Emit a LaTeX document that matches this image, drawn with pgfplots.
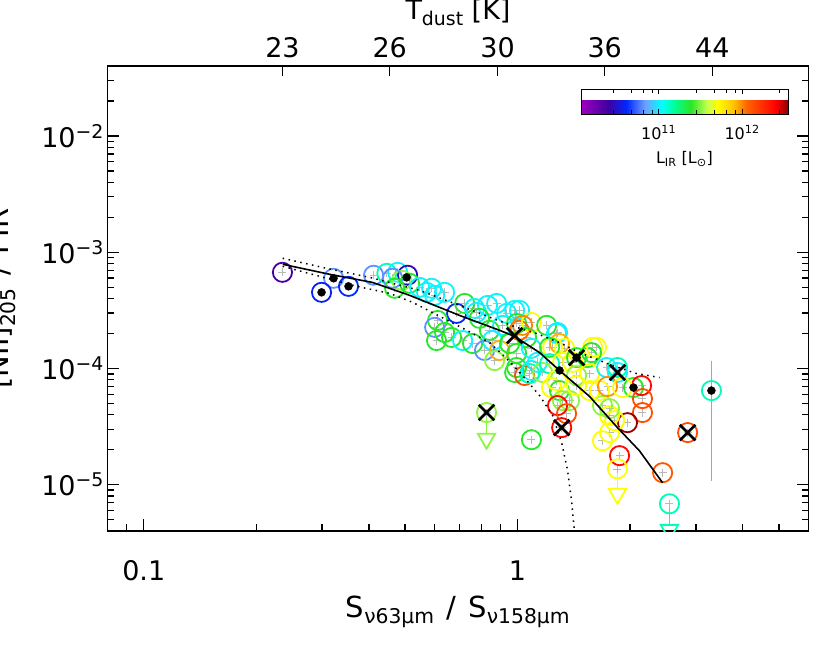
\documentclass[border=0pt]{standalone}
\usepackage{fontspec}
\setmainfont{DejaVu Sans}
\usepackage{pgfplots}
\usepackage{pgfplotstable}
\pgfplotsset{compat=1.18}
\definecolor{cYG}{RGB}{140,246,65}
\definecolor{cY}{RGB}{255,255,0}
\definecolor{cAQ}{RGB}{0,255,185}

\pgfplotstableread{
x y c
0.235 6.72e-4 10.37
0.322 5.97e-4 10.81
0.299 4.52e-4 10.59
0.353 5.09e-4 10.62
0.412 6.34e-4 10.81
0.447 6.59e-4 11.14
0.478 6.72e-4 11.01
0.508 6.34e-4 10.45
0.490 5.74e-4 11.51
0.463 5.97e-4 10.81
0.469 4.90e-4 11.38
0.514 5.41e-4 11.38
0.571 4.52e-4 11.01
0.600 4.26e-4 11.01
0.638 4.52e-4 11.01
0.589 4.90e-4 11.01
0.547 4.99e-4 11.01
0.687 2.98e-4 10.62
0.722 3.63e-4 11.38
0.611 2.59e-4 11.38
0.600 2.26e-4 10.81
0.607 1.74e-4 11.38
0.638 2.04e-4 11.38
0.666 1.85e-4 11.38
0.713 1.74e-4 11.01
0.767 3.29e-4 11.01
0.777 3.04e-4 11.01
0.831 3.49e-4 11.01
0.879 3.63e-4 11.01
0.791 2.70e-4 11.38
0.841 2.13e-4 11.38
0.758 1.64e-4 11.38
0.857 1.74e-4 11.01
0.816 1.43e-4 10.81
0.895 1.43e-4 11.93
0.868 1.17e-4 11.51
0.935 2.98e-4 11.01
0.982 3.16e-4 11.01
1.012 3.16e-4 11.01
0.912 2.35e-4 11.01
0.952 1.64e-4 11.38
0.994 2.44e-4 11.38
1.010 2.13e-4 12.05
1.089 2.49e-4 11.71
1.057 1.85e-4 11.38
0.994 1.35e-4 11.38
1.089 1.49e-4 11.01
0.994 1.02e-4 11.38
0.982 9.24e-5 11.38
1.044 8.71e-5 12.13
1.089 9.62e-5 11.01
1.077 9.05e-5 11.14
1.031 2.35e-4 12.00
1.196 2.35e-4 11.38
1.279 2.04e-4 11.01
1.271 2.00e-4 11.01
1.294 1.64e-4 11.93
1.336 1.49e-4 11.71
1.241 1.52e-4 11.71
1.218 1.52e-4 11.38
1.130 1.13e-4 11.01
1.167 9.24e-5 11.51
1.218 1.10e-4 11.14
1.319 1.13e-4 11.71
1.404 1.13e-4 11.71
1.438 1.24e-4 11.38
1.538 1.24e-4 11.38
1.626 1.52e-4 11.71
1.588 1.52e-4 11.71
1.577 1.37e-4 11.38
1.438 8.71e-5 11.51
1.559 9.05e-5 11.71
1.730 1.02e-4 11.01
1.850 1.02e-4 11.14
1.850 9.24e-5 11.01
2.042 6.86e-5 11.38
2.146 7.13e-5 12.38
2.158 5.51e-5 12.13
2.158 4.18e-5 12.13
1.968 3.42e-5 12.53
1.762 3.94e-5 11.71
1.687 4.80e-5 11.51
1.559 6.46e-5 11.71
1.656 6.46e-5 11.71
1.740 7.00e-5 11.98
1.909 6.86e-5 11.71
1.233 6.86e-5 11.71
1.294 6.46e-5 11.38
1.318 5.30e-5 11.51
1.377 5.30e-5 11.51
1.438 7.13e-5 11.71
1.271 7.88e-5 11.71
1.279 4.80e-5 12.38
1.352 4.09e-5 12.13
1.312 3.10e-5 12.38
1.089 2.44e-5 11.38
0.826 4.18e-5 11.51
1.687 2.39e-5 11.71
1.762 2.81e-5 11.71
1.817 3.56e-5 11.71
1.762 4.52e-5 11.51
1.874 1.78e-5 12.38
1.850 1.37e-5 11.71
2.443 1.27e-5 12.10
2.548 6.86e-6 11.14
2.850 2.81e-5 12.13
3.300 6.46e-5 11.14
}\circletab

\pgfplotstableread{
x y
0.826 4.18e-5
0.982 1.92e-4
1.438 1.24e-4
1.850 9.24e-5
1.312 3.10e-5
2.850 2.81e-5
}\crosstab

\pgfplotstableread{
x y
0.322 5.97e-4
0.299 4.52e-4
0.353 5.09e-4
0.505 6.08e-4
1.295 9.62e-5
1.438 1.24e-4
2.042 6.86e-5
3.300 6.46e-5
}\dottab

\pgfplotstableread{
x y
0.2353 7.88e-4
0.3143 6.46e-4
0.4093 5.50e-4
0.5143 4.26e-4
0.6998 2.86e-4
0.8952 2.13e-4
0.9817 1.89e-4
1.145 1.37e-4
1.295 9.62e-5
1.559 5.74e-5
1.850 3.10e-5
2.118 1.96e-5
2.443 1.04e-5
}\fittab

\pgfplotstableread{
x y
0.2353 8.88e-4
0.3086 7.27e-4
0.4022 6.08e-4
0.5470 4.70e-4
0.6871 3.56e-4
0.8573 2.70e-4
0.9939 2.26e-4
1.124 2.00e-4
1.295 1.67e-4
1.465 1.37e-4
1.795 1.06e-4
2.080 9.05e-5
2.398 8.36e-5
}\uppertab

\pgfplotstableread{
x y
0.2353 7.57e-4
0.3715 5.09e-4
0.4546 4.43e-4
0.5240 3.71e-4
0.7311 2.13e-4
0.8414 1.67e-4
0.9345 1.22e-4
1.031 8.71e-5
1.145 5.85e-5
1.241 3.94e-5
1.312 2.30e-5
1.361 1.32e-5
1.394 7.28e-6
1.425 3.5e-6
}\lowertab

\newcommand{\bigfnt}{\fontsize{27bp}{30bp}\selectfont}
\newcommand{\labfnt}{\fontsize{29bp}{32bp}\selectfont}
\newcommand{\cbfnt}{\fontsize{16bp}{18bp}\selectfont}

\begin{document}
\begin{tikzpicture}
\begin{axis}[
  at={(0,0)}, anchor=south west,
  scale only axis, width=701bp, height=465bp,
  xmode=log, ymode=log,
  xmin=0.08, xmax=6, ymin=4e-6, ymax=0.04,
  xtick={0.1,1}, xticklabels={0.1,1},
  minor xtick={0.09,0.2,0.3,0.4,0.5,0.6,0.7,0.8,0.9,2,3,4,5},
  ytick={1e-5,1e-4,1e-3,1e-2},
  yticklabels={10\textsuperscript{−5},10\textsuperscript{−4},10\textsuperscript{−3},10\textsuperscript{−2}},
  minor ytick={5e-6,6e-6,7e-6,8e-6,9e-6,2e-5,3e-5,4e-5,5e-5,6e-5,7e-5,8e-5,9e-5,2e-4,3e-4,4e-4,5e-4,6e-4,7e-4,8e-4,9e-4,2e-3,3e-3,4e-3,5e-3,6e-3,7e-3,8e-3,9e-3,2e-2,3e-2,4e-2},
  xtick pos=left, xticklabel pos=left, ytick pos=both, yticklabel pos=left,
  tick align=inside,
  major tick length=12bp, minor tick length=7bp,
  every tick/.style={black, line width=1.4bp},
  axis line style={line width=1.6bp},
  tick label style={font=\bigfnt},
  xticklabel style={yshift=-26bp},
  xlabel={S\textsubscript{ν63μm}\hspace{12bp}/\hspace{12bp}S\textsubscript{ν158μm}},
  xlabel style={font=\labfnt, at={(axis description cs:0.5,-0.185)}, anchor=base},
  ylabel={[NII]\textsubscript{205}\hspace{12bp}/\hspace{12bp}FIR},
  ylabel style={font=\labfnt, at={(axis description cs:-0.1405,0.5)}, anchor=base},
  clip marker paths=true,
  colormap={idl}{rgb255(0cm)=(160,0,192); rgb255(13cm)=(64,0,160); rgb255(22cm)=(0,40,255); rgb255(31cm)=(110,160,255); rgb255(39cm)=(0,255,255); rgb255(45cm)=(0,255,150); rgb255(53cm)=(40,230,40); rgb255(61cm)=(200,255,80); rgb255(66cm)=(255,255,0); rgb255(74cm)=(255,190,0); rgb255(80cm)=(255,100,0); rgb255(94cm)=(255,0,0); rgb255(100cm)=(140,0,0)},
  point meta min=10.07, point meta max=12.55,
  colorbar horizontal,
  colorbar style={
    at={(parent axis.south west)}, anchor=north west,
    xshift=473.5bp, yshift=450bp,
    scale only axis, width=207bp, height=25bp,
    xtick={11,12}, xticklabels={10\textsuperscript{11},10\textsuperscript{12}},
    minor xtick={10.454,10.672,10.814,10.921,11.447,11.664,11.81,11.92,12.443},
    xtick pos=both, xticklabel pos=left,
    tick align=inside,
    major tick length=5bp, minor tick length=4bp,
    every tick/.style={black, line width=0.8bp},
    axis line style={line width=0.8bp},
    xticklabel style={font=\cbfnt, yshift=-7bp},
    xlabel={L\textsubscript{IR} [L\textsubscript{⊙}]},
    xlabel style={font=\cbfnt, at={(axis description cs:0.5,-1.96)}, anchor=base},
  },
]
% upper-limit arrows
\addplot[cYG, line width=1.8bp] coordinates {(0.826,4.18e-5) (0.826,2.75e-5)};
\addplot[cY, line width=1.8bp] coordinates {(1.850,1.37e-5) (1.850,9.25e-6)};
\addplot[cAQ, line width=1.8bp] coordinates {(2.548,6.86e-6) (2.548,4.52e-6)};
\addplot[only marks, cYG, mark=triangle, mark size=10bp, mark options={rotate=180, line width=1.8bp}] coordinates {(0.826,2.49e-5)};
\addplot[only marks, cY, mark=triangle, mark size=10bp, mark options={rotate=180, line width=1.8bp}] coordinates {(1.850,8.36e-6)};
\addplot[only marks, cAQ, mark=triangle, mark size=10bp, mark options={rotate=180, line width=1.8bp}] coordinates {(2.548,4.09e-6)};
% large error bar
\addplot[gray!70, line width=0.8bp] coordinates {(3.300,1.17e-4) (3.300,1.08e-5)};
% small error crosses
\addplot[only marks, mark=+, mark size=4bp, gray!55, mark options={line width=0.7bp}] table[x=x,y=y] {\circletab};
% coloured circles
\addplot[scatter, only marks, mark=o, mark size=9.6bp, scatter src=explicit,
  scatter/use mapped color={draw=mapped color, line width=1.8bp}] table[x=x,y=y,meta=c] {\circletab};
% fits
\addplot[black, line width=1.6bp] table[x=x,y=y] {\fittab};
\addplot[black, line width=1.5bp, dash pattern=on 1.5bp off 4.5bp] table[x=x,y=y] {\uppertab};
\addplot[black, line width=1.5bp, dash pattern=on 1.5bp off 4.5bp] table[x=x,y=y] {\lowertab};
% crosses and dots
\addplot[only marks, mark=x, mark size=11bp, black, mark options={line width=2.6bp}] table[x=x,y=y] {\crosstab};
\addplot[only marks, mark=*, mark size=4bp, black] table[x=x,y=y] {\dottab};
\end{axis}

\begin{axis}[
  at={(0,0)}, anchor=south west,
  scale only axis, width=701bp, height=465bp,
  xmode=log, ymode=log,
  xmin=0.08, xmax=6, ymin=4e-6, ymax=0.04,
  axis x line*=top, axis y line=none,
  xtick={0.235,0.455,0.884,1.71,3.32}, xticklabels={23,26,30,36,44},
  minor xtick={},
  tick align=inside,
  major tick length=10bp,
  every tick/.style={black, line width=1.4bp},
  axis line style={line width=1.6bp},
  tick label style={font=\bigfnt},
  xticklabel style={yshift=5bp},
  xlabel={T\textsubscript{dust}\hspace{8bp}[K]},
  xlabel style={font=\bigfnt, at={(axis description cs:0.5,1.1)}, anchor=base},
]
\end{axis}
\pgfresetboundingbox
\path[use as bounding box] (-107.5bp,-114bp) rectangle (722.5bp,531bp);
\end{tikzpicture}
\end{document}
